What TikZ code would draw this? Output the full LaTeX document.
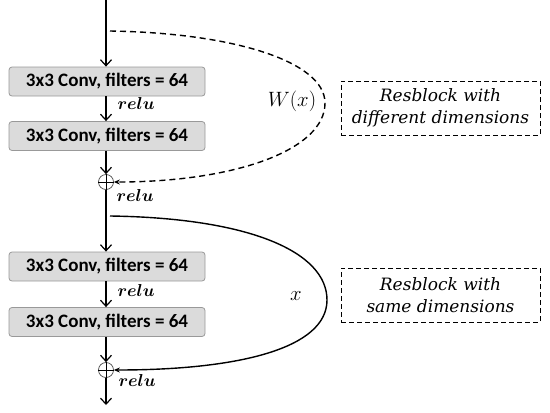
\documentclass[tikz,border=0pt]{standalone}
\usepackage{amsmath}
\usepackage{fontspec}
\setmainfont{DejaVu Serif}
\newfontfamily\boxfont{Carlito}
\usetikzlibrary{arrows.meta}
\begin{document}
\begin{tikzpicture}[x=1pt,y=-1pt,
  conv/.style={draw=black!40,fill=black!14,rounded corners=3pt,line width=0.8pt,
    minimum width=196pt,minimum height=29pt,inner sep=0pt,
    font=\boxfont\fontsize{19}{21}\selectfont\bfseries},
  sumnode/.style={circle,draw=black!70,line width=0.7pt,minimum size=15pt,inner sep=0pt},
  flow/.style={line width=1.4pt,-{Straight Barb[length=6pt,width=11pt,line width=1.2pt]}},
  skip/.style={line width=1.4pt,-{Stealth[length=6pt,width=5pt]}},
  note/.style={draw,dash pattern=on 5pt off 3pt,line width=0.8pt,minimum width=199pt,minimum height=54pt,
    align=center,font=\itshape\fontsize{17}{22}\selectfont},
  actlabel/.style={anchor=west,font=\fontsize{17}{18}\selectfont}
]
\useasboundingbox (0,0) rectangle (550,413);
% nodes
\coordinate (top) at (106,0);
\node[conv] (c1) at (107,81.5) {3x3 Conv, filters = 64};
\node[conv] (c2) at (107,136) {3x3 Conv, filters = 64};
\node[sumnode] (s1) at (106,182) {};
\coordinate (mid) at (106,216);
\node[conv] (c3) at (107,266.5) {3x3 Conv, filters = 64};
\node[conv] (c4) at (107,322) {3x3 Conv, filters = 64};
\node[sumnode] (s2) at (106,370) {};
\coordinate (bot) at (106,405);
\coordinate (d0) at (110,31);
\coordinate (d1) at (325,103);
\coordinate (e0) at (110,216);
\coordinate (e1) at (327,300);
% main flow
\draw[flow] (top) -- (c1.north -| top);
\draw[flow] (c1.south -| top) -- (c2.north -| top);
\draw[flow] (c2.south -| top) -- (s1.north);
\draw[line width=1.4pt] (s1.south) -- (mid);
\draw[flow] (mid) -- (c3.north -| top);
\draw[flow] (c3.south -| top) -- (c4.north -| top);
\draw[flow] (c4.south -| top) -- (s2.north);
\draw[flow] (s2.south) -- (bot);
% plus signs
\draw[line width=0.9pt] (s1.north) -- (s1.south) (s1.west) -- (s1.east);
\draw[line width=0.9pt] (s2.north) -- (s2.south) (s2.west) -- (s2.east);
% relu labels
\node[actlabel] (r1) at (114,103) {$\boldsymbol{relu}$};
\node[actlabel] (r2) at (113,195) {$\boldsymbol{relu}$};
\node[actlabel] (r3) at (114,290) {$\boldsymbol{relu}$};
\node[actlabel] (r4) at (115,380) {$\boldsymbol{relu}$};
% skip connections
\draw[skip,dash pattern=on 6pt off 4pt] (d0) .. controls (235,33) and (325,62) .. (d1)
  .. controls (325,150) and (235,182) .. (s1.east);
\draw[skip] (e0) .. controls (250,218) and (327,252) .. (e1)
  .. controls (327,348) and (240,370) .. (s2.east);
\node[font=\fontsize{21}{22}\selectfont] (wx) at (292,101) {$W(x)$};
\node[font=\fontsize{21}{22}\selectfont] (xx) at (296,296) {$x$};
% notes
\node[note] (n1) at (440.5,108) {Resblock with\\different dimensions};
\node[note] (n2) at (440.5,295) {Resblock with\\same dimensions};
\end{tikzpicture}
\end{document}
